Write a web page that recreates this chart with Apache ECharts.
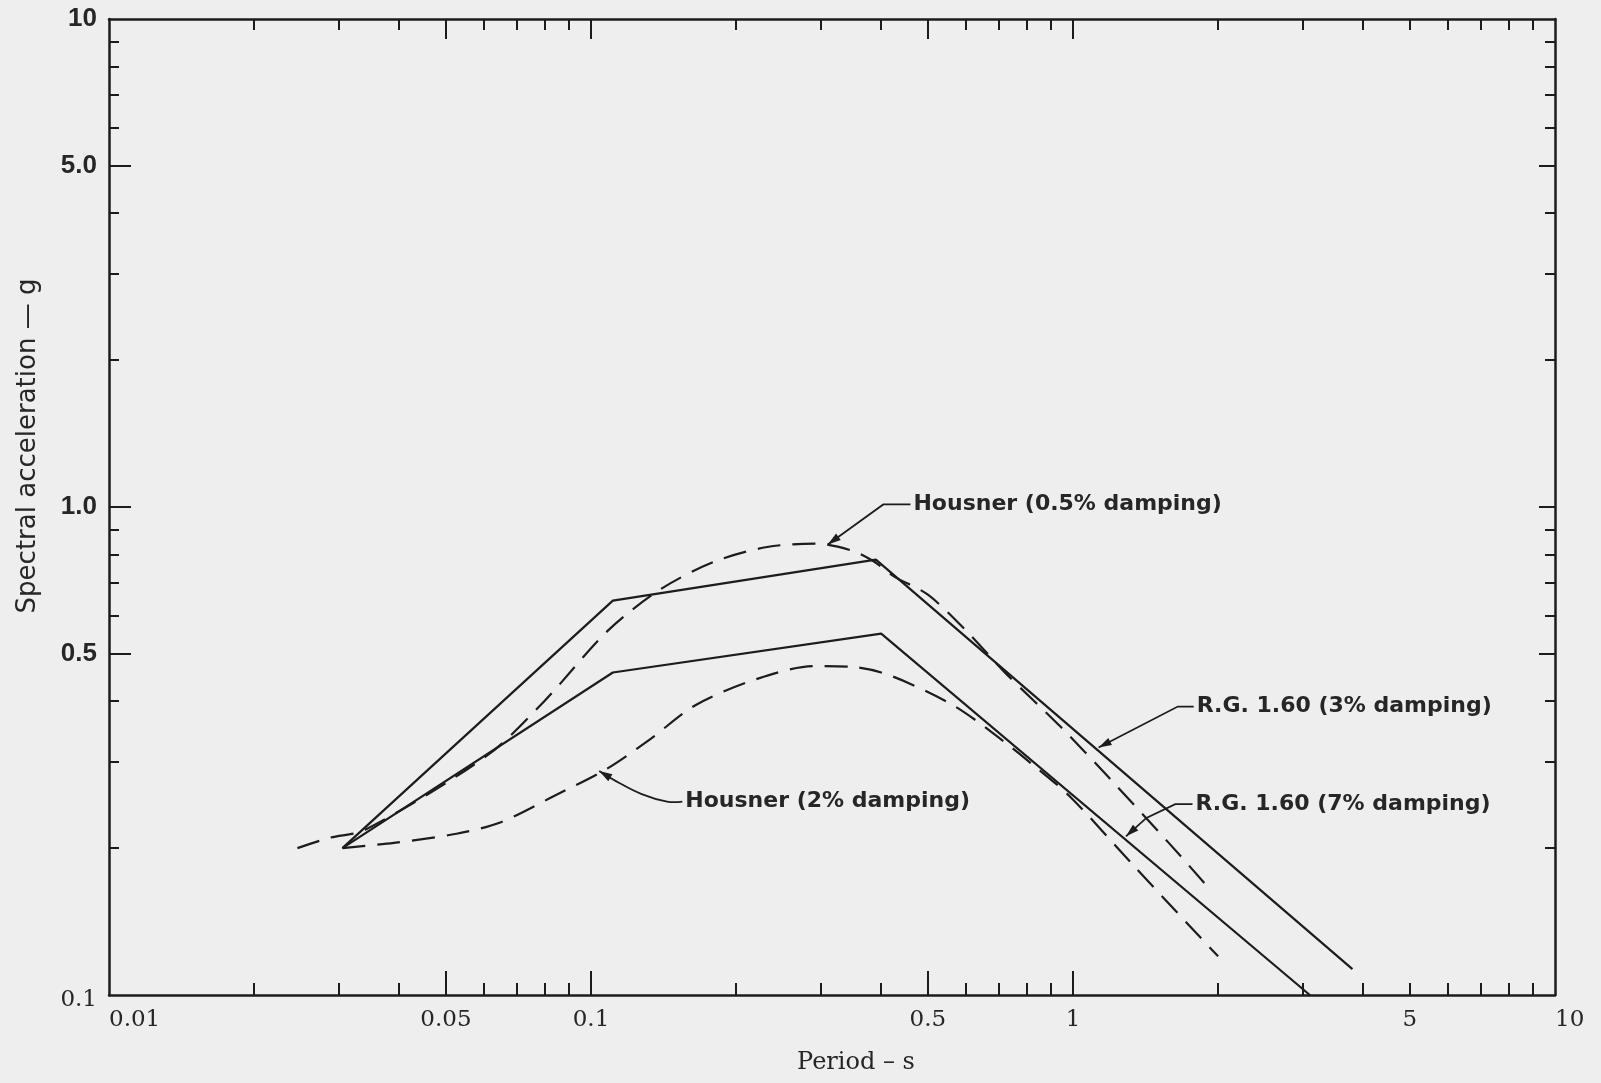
<!DOCTYPE html>
<html lang="en">
<head>
    <meta charset="UTF-8">
    <title>Spectral acceleration</title>
    <script src="https://cdn.jsdelivr.net/npm/echarts@6.0.0/dist/echarts.min.js"></script>
    <style>
        html, body { margin: 0; padding: 0; background: #eeeeee; }
        #main { width: 1601px; height: 1083px; }
    </style>
</head>
<body>
<div id="main"></div>
<script>
    // period (s), spectral acceleration (g)
    var rg3 = [[0.0305, 0.2], [0.111, 0.643], [0.39, 0.78], [3.8, 0.113]];
    var rg7 = [[0.0305, 0.2], [0.111, 0.458], [0.40, 0.55], [3.1, 0.1]];
    var housner05 = [[0.0246, 0.2], [0.0287, 0.21], [0.034, 0.218], [0.061, 0.31], [0.08, 0.4],
        [0.108, 0.556], [0.139, 0.677], [0.18, 0.772], [0.232, 0.828], [0.294, 0.841], [0.348, 0.814],
        [0.385, 0.775], [0.425, 0.721], [0.5, 0.661], [0.598, 0.56], [0.727, 0.455], [0.944, 0.354],
        [1.187, 0.279], [1.58, 0.205], [1.92, 0.165]];
    var housner2 = [[0.0305, 0.2], [0.039, 0.205], [0.0526, 0.214], [0.065, 0.226], [0.084, 0.256],
        [0.108, 0.291], [0.133, 0.335], [0.165, 0.393], [0.222, 0.445], [0.29, 0.472], [0.35, 0.47],
        [0.40, 0.458], [0.465, 0.432], [0.57, 0.39], [0.68, 0.345], [0.83, 0.295], [0.99, 0.254],
        [1.33, 0.185], [1.74, 0.139], [2.0, 0.12]];

    var xLabels = [0.01, 0.05, 0.1, 0.5, 1, 5, 10];
    var xMajorTicks = [0.05, 0.1, 0.5, 1];
    var xMinorTicks = [0.02, 0.03, 0.04, 0.06, 0.07, 0.08, 0.09, 0.2, 0.3, 0.4, 0.6, 0.7, 0.8, 0.9,
        2, 3, 4, 5, 6, 7, 8, 9];
    var yLabels = [0.1, 0.5, 1, 5, 10];
    var yLabelText = {'0.1': '{s|0.1}', '0.5': '0.5', '1': '1.0', '5': '5.0', '10': '10'};
    var yMajorTicks = [0.5, 1, 5];
    var yMinorTicks = [0.2, 0.3, 0.4, 0.6, 0.7, 0.8, 0.9, 2, 3, 4, 6, 7, 8, 9];

    // annotation text + leader line (first point = text start, last point = arrow tip)
    var notes = [
        {text: 'Housner (0.5% damping)', path: [[0.46, 1.012], [0.404, 1.012], [0.31, 0.838]]},
        {text: 'Housner (2% damping)', path: [[0.1547, 0.249], [0.1438, 0.249], [0.1274, 0.258], [0.1129, 0.274], [0.104, 0.2877]], smooth: 0.4},
        {text: 'R.G. 1.60 (3% damping)', path: [[1.78, 0.39], [1.65, 0.39], [1.13, 0.3216]]},
        {text: 'R.G. 1.60 (7% damping)', path: [[1.77, 0.246], [1.63, 0.246], [1.42, 0.2306], [1.288, 0.2114]]}
    ];

    var ink = '#1c1c1c';
    var textInk = '#262626';
    var chart = echarts.init(document.getElementById('main'));

    function logAxis(pos, ticks, len, extra) {
        var a = {
            type: 'log', logBase: 10, position: pos, gridIndex: 0,
            axisLine: {show: false, onZero: false},
            axisTick: {show: true, inside: true, length: len, customValues: ticks, lineStyle: {color: ink, width: 2}},
            axisLabel: {show: false},
            splitLine: {show: false}
        };
        return Object.assign(a, extra || {});
    }

    var xBase = {min: 0.01, max: 10};
    var yBase = {min: 0.1, max: 10};
    var frame = {show: true, onZero: false, lineStyle: {color: ink, width: 2.5}};

    var option = {
        backgroundColor: '#eeeeee',
        animation: false,
        grid: {left: 109, right: 46, top: 19, bottom: 88, outerBoundsMode: 'none'},
        xAxis: [
            logAxis('bottom', xMinorTicks, 12, Object.assign({
                axisLine: frame,
                axisLabel: {
                    show: true, customValues: xLabels, margin: 14, color: textInk,
                    fontFamily: 'DejaVu Serif', fontSize: 23,
                    alignMinLabel: 'left', alignMaxLabel: 'left',
                    formatter: function (v) { return String(+v.toPrecision(3)); }
                },
                name: 'Period \u2013 s', nameLocation: 'middle', nameGap: 56,
                nameTextStyle: {color: textInk, fontFamily: 'DejaVu Serif', fontSize: 24, padding: [0, 0, 0, 48]}
            }, xBase)),
            logAxis('bottom', xMajorTicks, 24, xBase),
            logAxis('top', xMinorTicks, 11, Object.assign({axisLine: frame}, xBase)),
            logAxis('top', xMajorTicks, 20, xBase)
        ],
        yAxis: [
            logAxis('left', yMinorTicks, 10, Object.assign({
                axisLine: frame,
                axisLabel: {
                    show: true, customValues: yLabels, margin: 12, color: textInk,
                    fontFamily: 'Liberation Sans', fontWeight: 'bold', fontSize: 26,
                    formatter: function (v) { return yLabelText[String(+v.toPrecision(3))]; },
                    rich: {s: {fontFamily: 'DejaVu Serif', fontWeight: 'normal', fontSize: 23, color: textInk, padding: [10, 0, 0, 0]}}
                }
            }, yBase)),
            logAxis('left', yMajorTicks, 22, yBase),
            logAxis('right', yMinorTicks, 10, Object.assign({axisLine: frame}, yBase)),
            logAxis('right', yMajorTicks, 16, yBase)
        ],
        series: [
            {name: 'R.G. 1.60 (3% damping)', type: 'line', data: rg3, symbol: 'none',
                lineStyle: {color: ink, width: 2.2}},
            {name: 'R.G. 1.60 (7% damping)', type: 'line', data: rg7, symbol: 'none',
                lineStyle: {color: ink, width: 2.2}},
            {name: 'Housner (0.5% damping)', type: 'line', data: housner05, symbol: 'none', smooth: 0.3,
                lineStyle: {color: ink, width: 2.2, type: [23, 12]}},
            {name: 'Housner (2% damping)', type: 'line', data: housner2, symbol: 'none', smooth: 0.3,
                lineStyle: {color: ink, width: 2.2, type: [23, 12]}}
        ]
    };
    chart.setOption(option);

    // y axis title, leader lines, arrows and labels
    var els = [{
        type: 'text', x: 28, y: 446, rotation: Math.PI / 2,
        style: {text: 'Spectral acceleration \u2014 g', fill: textInk, fontFamily: 'DejaVu Sans',
            fontSize: 26, align: 'center', verticalAlign: 'middle'}
    }];
    notes.forEach(function (n) {
        var pts = n.path.map(function (p) { return chart.convertToPixel({gridIndex: 0}, p); });
        els.push({type: 'polyline', shape: {points: pts, smooth: n.smooth || 0},
            style: {stroke: ink, lineWidth: 1.8, fill: 'none'}});
        var a = pts[pts.length - 2], b = pts[pts.length - 1];
        var ang = Math.atan2(b[1] - a[1], b[0] - a[0]);
        var L = 13, W = 4;
        var bx = b[0] - L * Math.cos(ang), by = b[1] - L * Math.sin(ang);
        els.push({type: 'polygon', shape: {points: [b,
                [bx + W * Math.sin(ang), by - W * Math.cos(ang)],
                [bx - W * Math.sin(ang), by + W * Math.cos(ang)]]},
            style: {fill: ink}});
        els.push({type: 'text', x: pts[0][0] + 3, y: pts[0][1],
            style: {text: n.text, fill: textInk, fontFamily: 'DejaVu Sans', fontWeight: 'bold',
                fontSize: 22, verticalAlign: 'middle', align: 'left'}});
    });
    chart.setOption({graphic: els});
</script>
</body>
</html>
